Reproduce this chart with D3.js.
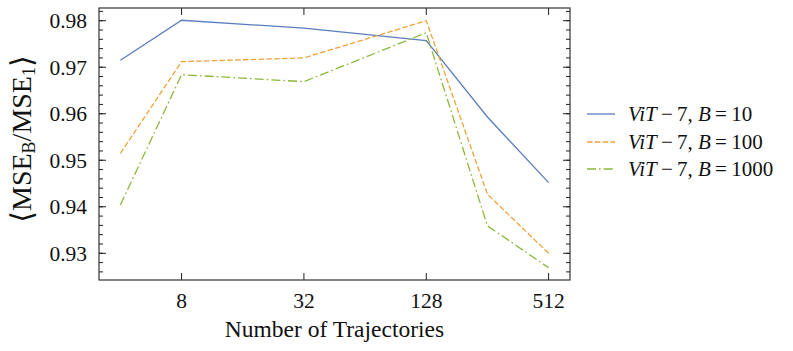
<!DOCTYPE html>
<html>
<head>
<meta charset="utf-8">
<script src="https://cdn.jsdelivr.net/npm/d3@7"></script>
<style>
  body { margin: 0; background: #fff; }
  svg text { font-family: "Liberation Serif", "DejaVu Serif", serif; fill: #111; }
</style>
</head>
<body>
<div id="chart"></div>
<script>
// trajectories (log2 axis)
var trajectories = [4, 8, 32, 128, 256, 512];
var xTicks = [8, 32, 128, 512];
var yTicks = [0.93, 0.94, 0.95, 0.96, 0.97, 0.98];

var seriesB10   = [0.9715, 0.9801, 0.9784, 0.9757, 0.9593, 0.9452];
var seriesB100  = [0.9515, 0.9712, 0.9720, 0.9800, 0.9427, 0.9300];
var seriesB1000 = [0.9404, 0.9684, 0.9669, 0.9774, 0.9359, 0.9269];

var labelsB = ["10", "100", "1000"];

var width = 793, height = 351;
var margin = {left: 99, top: 8, right: 223, bottom: 71};

var svg = d3.select("#chart").append("svg")
    .attr("width", width)
    .attr("height", height);

var x = d3.scaleLog().base(2)
    .domain([Math.pow(2, 1.65), Math.pow(2, 9.35)])
    .range([margin.left, width - margin.right]);

var y = d3.scaleLinear()
    .domain([0.92426, 0.98273])
    .range([height - margin.bottom, margin.top]);

var x0 = margin.left, x1 = width - margin.right;
var y0 = height - margin.bottom, y1 = margin.top;

var series = [
    {vals: seriesB10, color: "#5b7ebd", dash: null},
    {vals: seriesB100, color: "#eda33a", dash: "5.5,2.3"},
    {vals: seriesB1000, color: "#8db73d", dash: "9,3,1.7,3"}
];

var line = d3.line()
    .x(function(d) { return x(d[0]); })
    .y(function(d) { return y(d[1]); });

for (var i = 0; i < series.length; i++) {
    var pts = trajectories.map(function(t, j) { return [t, series[i].vals[j]]; });
    svg.append("path")
        .attr("d", line(pts))
        .attr("fill", "none")
        .attr("stroke", series[i].color)
        .attr("stroke-width", 1.3)
        .attr("stroke-dasharray", series[i].dash);
}

// ticks inward on all sides
var majorLen = 7, minorLen = 4;
var tickFont = "21.5px", textFont = "23.5px";

xTicks.forEach(function(t) {
    svg.append("line").attr("x1", x(t)).attr("x2", x(t))
        .attr("y1", y0).attr("y2", y0 - majorLen).attr("stroke", "#222");
    svg.append("line").attr("x1", x(t)).attr("x2", x(t))
        .attr("y1", y1).attr("y2", y1 + majorLen).attr("stroke", "#222");
    svg.append("text")
        .attr("x", x(t))
        .attr("y", 308)
        .attr("text-anchor", "middle")
        .style("font-size", tickFont)
        .text(t);
});

var minor = d3.range(0.924, 0.983, 0.002).filter(function(v) {
    return y(v) <= y0 && y(v) >= y1;
});
minor.forEach(function(v) {
    svg.append("line").attr("x1", x0).attr("x2", x0 + minorLen)
        .attr("y1", y(v)).attr("y2", y(v)).attr("stroke", "#222");
    svg.append("line").attr("x1", x1).attr("x2", x1 - minorLen)
        .attr("y1", y(v)).attr("y2", y(v)).attr("stroke", "#222");
});

yTicks.forEach(function(v) {
    svg.append("line").attr("x1", x0).attr("x2", x0 + majorLen)
        .attr("y1", y(v)).attr("y2", y(v)).attr("stroke", "#222");
    svg.append("line").attr("x1", x1).attr("x2", x1 - majorLen)
        .attr("y1", y(v)).attr("y2", y(v)).attr("stroke", "#222");
    svg.append("text")
        .attr("x", x0 - 12)
        .attr("y", y(v))
        .attr("dy", "0.35em")
        .attr("text-anchor", "end")
        .style("font-size", tickFont)
        .text(v.toFixed(2));
});

svg.append("rect")
    .attr("x", x0).attr("y", y1)
    .attr("width", x1 - x0).attr("height", y0 - y1)
    .attr("fill", "none")
    .attr("stroke", "#222")
    .attr("stroke-width", 1.1);

// axis labels
svg.append("text")
    .attr("x", (x0 + x1) / 2)
    .attr("y", 337)
    .attr("text-anchor", "middle")
    .style("font-size", textFont)
    .text("Number of Trajectories");

var yg = svg.append("g");
var yl = yg.append("text")
    .attr("transform", "rotate(-90)")
    .style("font-size", "28px");
yl.append("tspan").style("font-size", "30px").style("font-weight", "300").attr("dy", "1").text("\u27E8");
yl.append("tspan").attr("dy", "-1").text("MSE");
yl.append("tspan").attr("dy", "4").style("font-size", "18px").text("B");
yl.append("tspan").attr("dy", "-4").text("/MSE");
yl.append("tspan").attr("dy", "4").style("font-size", "18px").text("1");
yl.append("tspan").style("font-size", "30px").style("font-weight", "300").attr("dy", "-3").text("\u27E9");
// center the rotated label next to the plot area
var len = yl.node().getComputedTextLength();
yg.attr("transform", "translate(31," + (139 + len / 2) + ")");

// legend
var legRows = [114, 142, 169];
for (var k = 0; k < series.length; k++) {
    svg.append("line")
        .attr("x1", 587).attr("x2", 615)
        .attr("y1", legRows[k]).attr("y2", legRows[k])
        .attr("stroke", series[k].color)
        .attr("stroke-width", 1.3)
        .attr("stroke-dasharray", series[k].dash);
    var t = svg.append("text")
        .attr("x", 628)
        .attr("y", legRows[k])
        .attr("dy", "0.35em")
        .style("font-size", "21px");
    t.append("tspan").style("font-style", "italic").text("ViT");
    t.append("tspan").text("\u2009\u2212\u20097, ");
    t.append("tspan").style("font-style", "italic").text("B");
    t.append("tspan").text("\u2009=\u2009" + labelsB[k]);
}
</script>
</body>
</html>
